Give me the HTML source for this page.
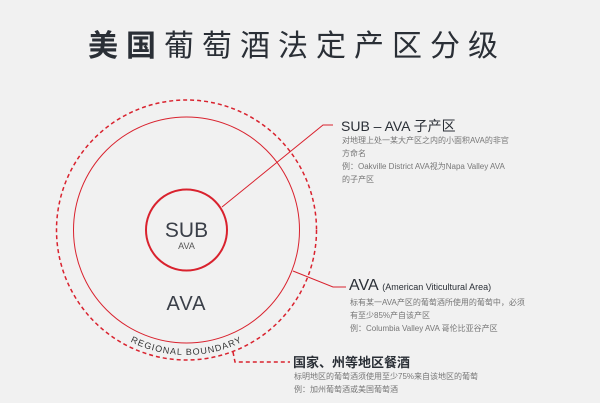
<!DOCTYPE html>
<html><head><meta charset="utf-8"><style>
html,body{margin:0;padding:0;}
body{width:600px;height:403px;background:#f1f1f1;position:relative;overflow:hidden;font-family:"Liberation Sans","Noto Sans CJK SC",sans-serif;color:#333;}
.t{position:absolute;white-space:nowrap;}
.s{font-size:8px;color:#777;line-height:13px;}
</style></head><body>
<div class="t" style="left:88px;top:30px;font-size:30px;letter-spacing:8px;color:#2a2f36;line-height:34px;"><span style="font-weight:bold">美国</span>葡萄酒法定产区分级</div>
<svg width="600" height="403" style="position:absolute;left:0;top:0">
<defs><path id="arc" d="M 61.5 230 A 125 125 0 0 0 311.5 230"/></defs>
<circle cx="186.5" cy="230" r="130" fill="none" stroke="#d9222e" stroke-width="1.5" stroke-dasharray="4,3"/>
<circle cx="186.5" cy="230" r="113" fill="none" stroke="#d9222e" stroke-width="1"/>
<circle cx="186.5" cy="230" r="40.5" fill="none" stroke="#d9222e" stroke-width="2"/>
<polyline points="222,207 323,125 333,125" fill="none" stroke="#d9222e" stroke-width="1"/>
<polyline points="293,271 333,287 346,287" fill="none" stroke="#d9222e" stroke-width="1"/>
<polyline points="233,352 235,362 290,362" fill="none" stroke="#d9222e" stroke-width="1.5" stroke-dasharray="4,3"/>
<text x="186.5" y="237" text-anchor="middle" font-family="Liberation Sans" font-size="21" fill="#3a3f48">SUB</text>
<text x="186.5" y="249" text-anchor="middle" font-family="Liberation Sans" font-size="9" fill="#555">AVA</text>
<text x="186.5" y="310" text-anchor="middle" font-family="Liberation Sans" font-size="20" fill="#3a3f48" letter-spacing="1">AVA</text>
<text font-family="Liberation Sans" font-size="9" fill="#333" letter-spacing="1"><textPath href="#arc" startOffset="50%" text-anchor="middle">REGIONAL BOUNDARY</textPath></text>
</svg>
<div class="t" style="left:341px;top:116px;font-size:14px;color:#2a2f36;">SUB – AVA 子产区</div>
<div class="t s" style="left:342px;top:134px;">对地理上处一某大产区之内的小面积AVA的非官<br>方命名<br>例：Oakville District AVA视为Napa Valley AVA<br>的子产区</div>
<div class="t" style="left:349px;top:277px;font-size:16px;color:#2a2f36;">AVA <span style="font-size:9px">(American Viticultural Area)</span></div>
<div class="t s" style="left:350px;top:296px;">标有某一AVA产区的葡萄酒所使用的葡萄中，必须<br>有至少85%产自该产区<br>例：Columbia Valley AVA 哥伦比亚谷产区</div>
<div class="t" style="left:293px;top:352px;font-size:13px;font-weight:bold;color:#2a2f36;">国家、州等地区餐酒</div>
<div class="t s" style="left:294px;top:370px;">标明地区的葡萄酒须使用至少75%来自该地区的葡萄<br>例：加州葡萄酒或美国葡萄酒</div>
</body></html>
